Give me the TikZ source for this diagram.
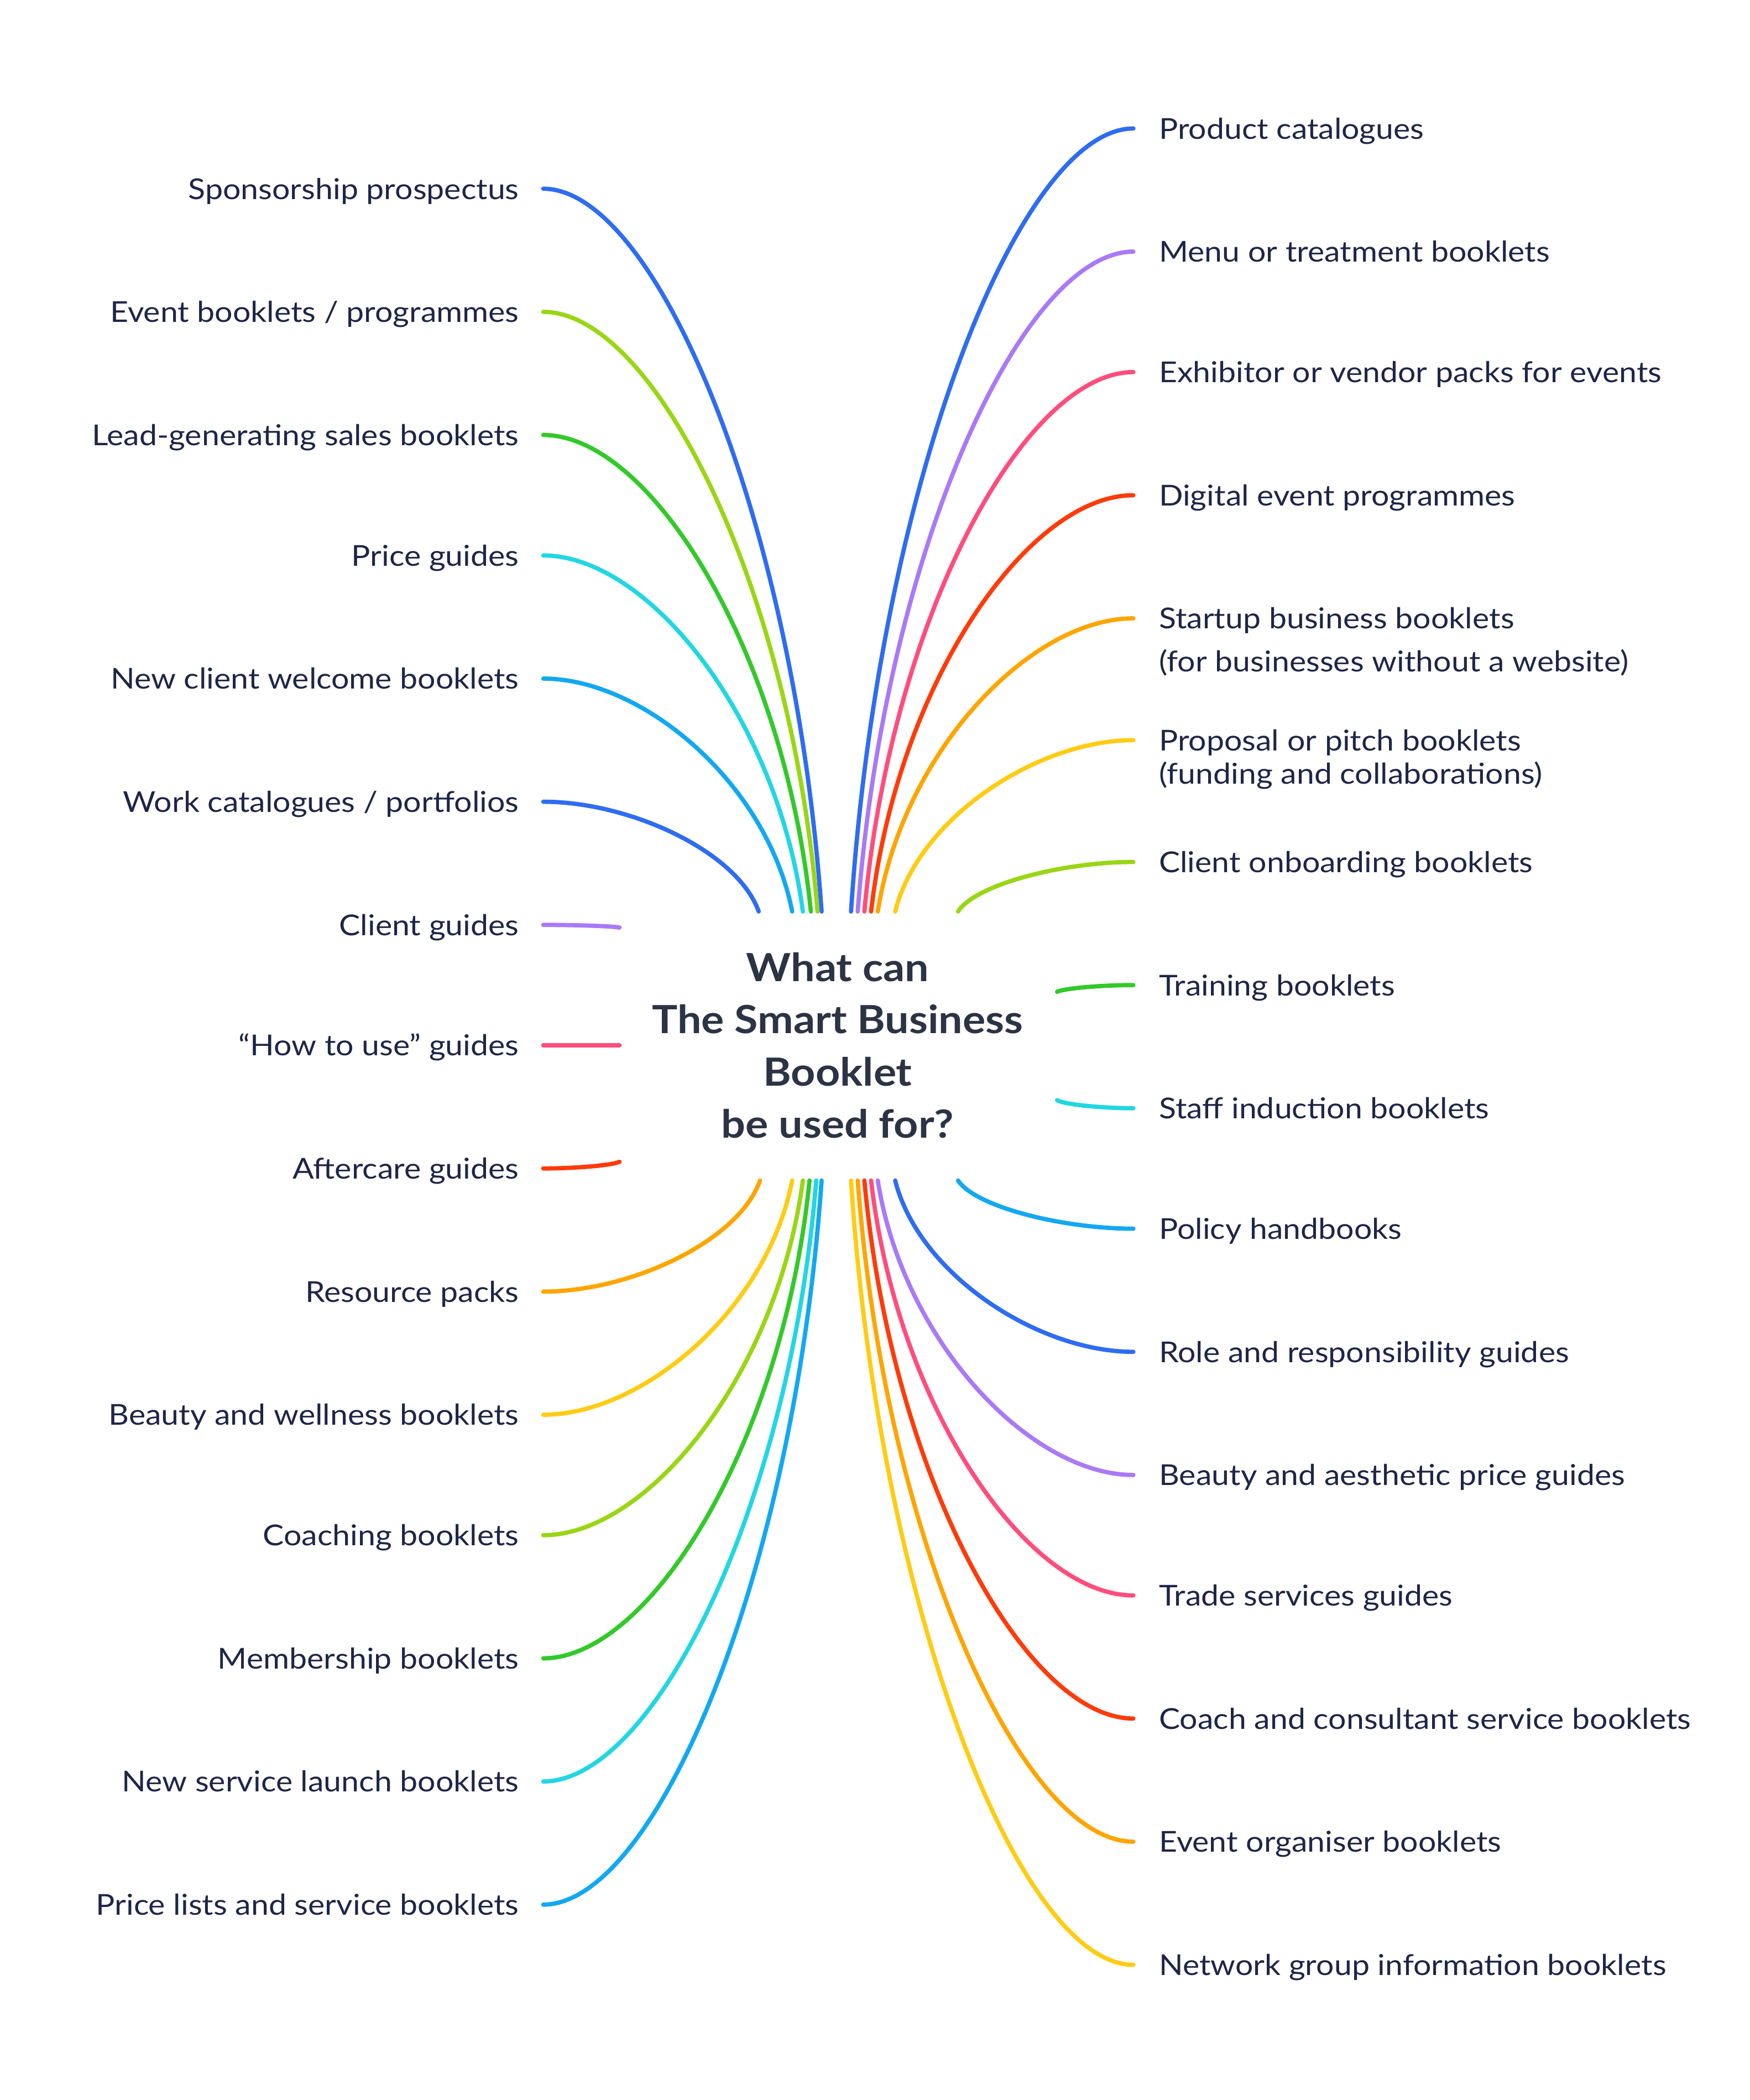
\documentclass[tikz,border=0pt]{standalone}
\usepackage{fontspec}
\setmainfont{Lato}[FakeStretch=1.1]
\definecolor{cBlue}{HTML}{2E6CF2}
\definecolor{cYG}{HTML}{99D614}
\definecolor{cGreen}{HTML}{33C92A}
\definecolor{cCyan}{HTML}{22D6E2}
\definecolor{cSky}{HTML}{12A8F2}
\definecolor{cPurple}{HTML}{A97AF7}
\definecolor{cPink}{HTML}{FF4D7D}
\definecolor{cRed}{HTML}{FF3B0A}
\definecolor{cOrange}{HTML}{FFA500}
\definecolor{cYellow}{HTML}{FFCC14}
\definecolor{navy}{HTML}{1E2547}
\definecolor{titlecol}{HTML}{2C3344}
\begin{document}
\begin{tikzpicture}[x=1pt,y=-1pt,
  lbl/.style={font=\fontsize{21.5}{25}\selectfont, text=navy, inner sep=0pt},
  branch/.style={line width=3.2pt, line cap=round},
  title/.style={font=\fontsize{29}{39}\selectfont\bfseries, text=titlecol, align=center, inner sep=0pt}]
\fill[white] (0,0) rectangle (1307.5,1569);
\useasboundingbox (0,0) rectangle (1307.5,1569);
\node[title] (center) at (626,781) {What can\\The Smart Business\\Booklet\\be used for?};
% left branches
\foreach \y/\xe/\ye/\col/\txt [count=\i] in {
 141/614/681/cBlue/{Sponsorship prospectus},
 233/611/681/cYG/{Event booklets / programmes},
 325/606/681/cGreen/{Lead-generating sales booklets},
 415/600/681/cCyan/{Price guides},
 507/592/681/cSky/{New client welcome booklets},
 599/567/681/cBlue/{Work catalogues / portfolios},
 691/463/693/cPurple/{Client guides},
 781/463/781/cPink/{“How to use” guides},
 873/463/868/cRed/{Aftercare guides},
 965/568/882/cOrange/{Resource packs},
 1057/592/882/cYellow/{Beauty and wellness booklets},
 1147/600/882/cYG/{Coaching booklets},
 1239/605/882/cGreen/{Membership booklets},
 1331/610/882/cCyan/{New service launch booklets},
 1423/614/882/cSky/{Price lists and service booklets}}
{
 \pgfmathsetmacro\dx{\xe-406}
 \pgfmathsetmacro\dy{\ye-\y}
 \node[lbl, anchor=base east] (L\i) at (388,\y+7.8) {\txt};
 \coordinate (La\i) at (406,\y);
 \coordinate (Lb\i) at (\xe,\ye);
 \draw[branch,\col] (La\i) .. controls +(0.4*\dx,0) and +(-0.1*\dx,-0.55*\dy) .. (Lb\i);
}
% right branches
\foreach \y/\xs/\ys/\col/\txt [count=\i] in {
 96/636/681/cBlue/{Product catalogues},
 188/641/681/cPurple/{Menu or treatment booklets},
 278/646/681/cPink/{Exhibitor or vendor packs for events},
 370/651/681/cRed/{Digital event programmes},
 462/656/681/cOrange/{\vtop{\baselineskip=32pt\hbox{Startup business booklets}\hbox{(for businesses without a website)}}},
 553/669/681/cYellow/{\vtop{\baselineskip=25pt\hbox{Proposal or pitch booklets}\hbox{(funding and collaborations)}}},
 644/716/681/cYG/{Client onboarding booklets},
 736/790/741/cGreen/{Training booklets},
 828/790/822/cCyan/{Staff induction booklets},
 918/716/882/cSky/{Policy handbooks},
 1010/669/882/cBlue/{Role and responsibility guides},
 1102/656/882/cPurple/{Beauty and aesthetic price guides},
 1192/651/882/cPink/{Trade services guides},
 1284/646/882/cRed/{Coach and consultant service booklets},
 1376/641/882/cOrange/{Event organiser booklets},
 1468/636/882/cYellow/{Network group information booklets}}
{
 \pgfmathsetmacro\dx{847-\xs}
 \pgfmathsetmacro\dy{\y-\ys}
 \node[lbl, anchor=base west] (R\i) at (866,\y+7.8) {\txt};
 \coordinate (Rs\i) at (\xs,\ys);
 \coordinate (Re\i) at (847,\y);
 \draw[branch,\col] (Rs\i) .. controls +(0.1*\dx,0.55*\dy) and +(-0.4*\dx,0) .. (Re\i);
}
\end{tikzpicture}
\end{document}
